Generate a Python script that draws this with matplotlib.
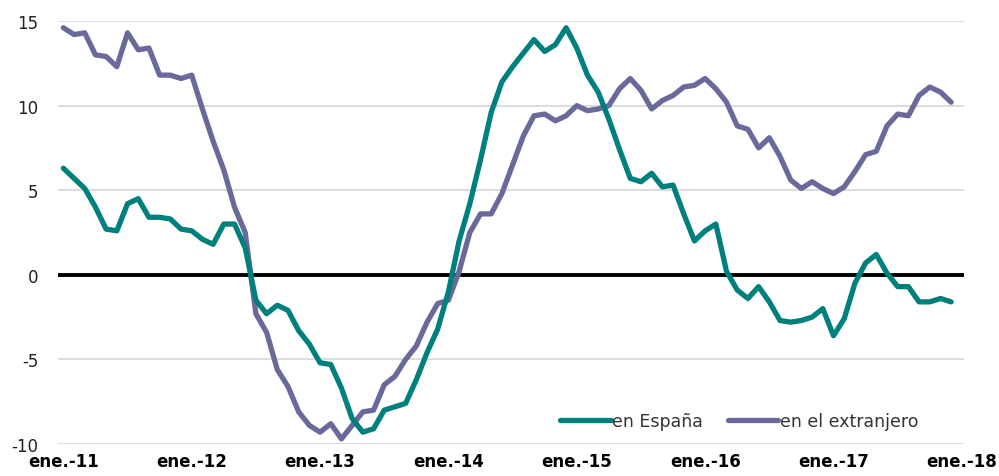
import matplotlib.pyplot as plt

# monthly values, ene.-11 .. dic.-17
espana = [6.3, 5.7, 5.1, 4.0, 2.7, 2.6, 4.2, 4.5, 3.4, 3.4, 3.3, 2.7,
          2.6, 2.1, 1.8, 3.0, 3.0, 1.6, -1.5, -2.3, -1.8, -2.1, -3.3, -4.1,
          -5.2, -5.3, -6.7, -8.5, -9.3, -9.1, -8.0, -7.8, -7.6, -6.2, -4.6, -3.2,
          -1.0, 2.0, 4.2, 6.8, 9.6, 11.4, 12.3, 13.1, 13.9, 13.2, 13.6, 14.6,
          13.4, 11.8, 10.8, 9.2, 7.4, 5.7, 5.5, 6.0, 5.2, 5.3, 3.6, 2.0,
          2.6, 3.0, 0.2, -0.9, -1.4, -0.7, -1.6, -2.7, -2.8, -2.7, -2.5, -2.0,
          -3.6, -2.6, -0.5, 0.7, 1.2, 0.1, -0.7, -0.7, -1.6, -1.6, -1.4, -1.6]
extranjero = [14.6, 14.2, 14.3, 13.0, 12.9, 12.3, 14.3, 13.3, 13.4, 11.8, 11.8, 11.6,
              11.8, 9.8, 7.9, 6.2, 4.0, 2.5, -2.3, -3.4, -5.6, -6.6, -8.1, -8.9,
              -9.3, -8.8, -9.7, -8.9, -8.1, -8.0, -6.5, -6.0, -5.0, -4.2, -2.8, -1.7,
              -1.5, 0.2, 2.5, 3.6, 3.6, 4.8, 6.5, 8.2, 9.4, 9.5, 9.1, 9.4,
              10.0, 9.7, 9.8, 10.0, 11.0, 11.6, 10.9, 9.8, 10.3, 10.6, 11.1, 11.2,
              11.6, 11.0, 10.2, 8.8, 8.6, 7.5, 8.1, 7.0, 5.6, 5.1, 5.5, 5.1,
              4.8, 5.2, 6.1, 7.1, 7.3, 8.8, 9.5, 9.4, 10.6, 11.1, 10.8, 10.2]
tick_labels = ['ene.-11', 'ene.-12', 'ene.-13', 'ene.-14', 'ene.-15', 'ene.-16', 'ene.-17', 'ene.-18']

meses = list(range(len(espana)))

fig = plt.figure(figsize=(9.99, 4.77), dpi=100)
ax = fig.add_axes([58/999, 1-445/477, (964-58)/999, (445-22)/477])

for y in [-10, -5, 5, 10, 15]:
    ax.axhline(y, color='#d9d9d9', lw=1.3, zorder=0)
ax.axhline(0, color='black', lw=2.8, zorder=1)

ax.plot(meses, espana, color='#00807c', lw=3.8, solid_joinstyle='round',
        solid_capstyle='round', label='en España', zorder=3)
ax.plot(meses, extranjero, color='#69699c', lw=3.8, solid_joinstyle='round',
        solid_capstyle='round', label='en el extranjero', zorder=2)

ax.set_xlim(-0.5, 84.2)
ax.set_ylim(-10, 15)
ax.set_yticks([-10, -5, 0, 5, 10, 15])
ax.set_yticklabels(['-10', '-5', '0', '5', '10', '15'])
ax.set_xticks(range(0, 85, 12))
ax.set_xticklabels(tick_labels, fontweight='bold')
ax.tick_params(axis='y', length=0, pad=14, labelsize=12, labelcolor='#222222')
ax.tick_params(axis='x', length=0, pad=6, labelsize=12)
for s in ax.spines.values():
    s.set_visible(False)

ax.legend(loc='center', bbox_to_anchor=(0.752, 0.055), ncol=2, frameon=False,
          fontsize=12.5, handlelength=2.9, handletextpad=0.1, columnspacing=1.4,
          labelcolor='#333333')

fig.savefig('out.png', dpi=100)
